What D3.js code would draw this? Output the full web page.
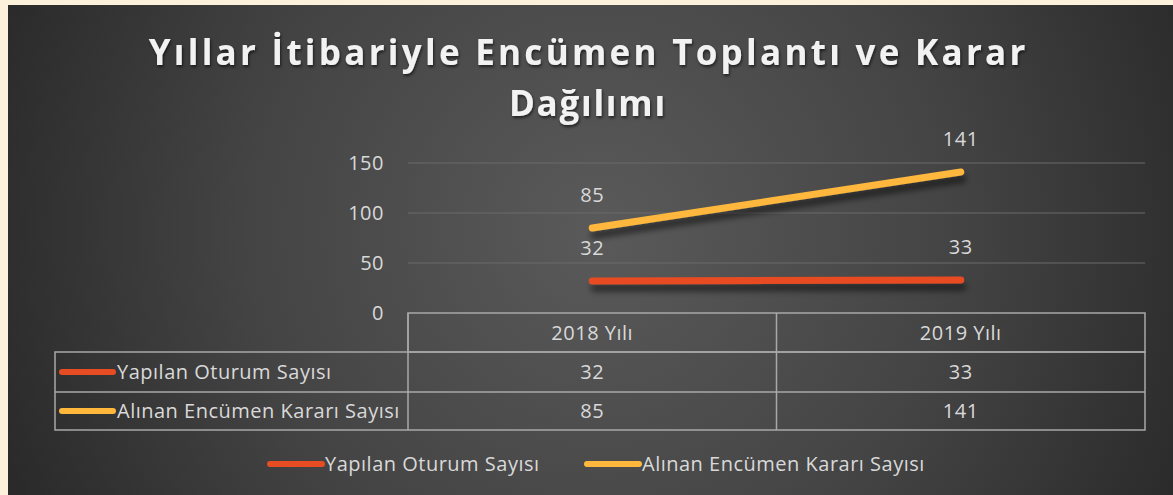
<!DOCTYPE html>
<html>
<head>
<meta charset="utf-8">
<script src="https://cdn.jsdelivr.net/npm/d3@7"></script>
<style>
  body { margin: 0; background: #fcf1da; }
  svg { display: block; }
</style>
</head>
<body>
<svg id="chart"></svg>
<script>
const width = 1173;
const height = 495;

const years = ['2018 Yılı', '2019 Yılı'];
const seriesNames = ['Yapılan Oturum Sayısı', 'Alınan Encümen Kararı Sayısı'];
const oturumValues = [32, 33];
const kararValues = [85, 141];
const yTicks = [0, 50, 100, 150];
const colors = ['#e84c22', '#ffb83c'];

const series = [
    { name: seriesNames[0], values: oturumValues, color: colors[0] },
    { name: seriesNames[1], values: kararValues, color: colors[1] }
];

const textColor = '#d9d9d9';
const gridColor = '#6b6b6b';
const tableColor = '#a8a8a8';
const font = '"Open Sans", "Noto Sans", sans-serif';
const fontSize = 20;
const spacing = 0.5;

const svg = d3.select('#chart')
    .attr('width', width)
    .attr('height', height);

const defs = svg.append('defs');

const grad = defs.append('radialGradient')
    .attr('id', 'bg')
    .attr('gradientUnits', 'userSpaceOnUse')
    .attr('cx', 600).attr('cy', 230).attr('r', 640);
grad.append('stop').attr('offset', '0%').attr('stop-color', '#5a5a5a');
grad.append('stop').attr('offset', '55%').attr('stop-color', '#444444');
grad.append('stop').attr('offset', '100%').attr('stop-color', '#2a2a2a');

// filter region in user space so the flat red line keeps its shadow
const shadow = defs.append('filter').attr('id', 'shadow')
    .attr('filterUnits', 'userSpaceOnUse')
    .attr('x', 0).attr('y', 0).attr('width', width).attr('height', height);
shadow.append('feDropShadow')
    .attr('dx', 2).attr('dy', 7).attr('stdDeviation', 3)
    .attr('flood-color', '#000').attr('flood-opacity', 0.55);

const titleShadow = defs.append('filter').attr('id', 'tshadow')
    .attr('filterUnits', 'userSpaceOnUse')
    .attr('x', 0).attr('y', 0).attr('width', width).attr('height', height);
titleShadow.append('feDropShadow')
    .attr('dx', 1).attr('dy', 2).attr('stdDeviation', 1.5)
    .attr('flood-color', '#000').attr('flood-opacity', 0.6);

// chart area
svg.append('rect')
    .attr('x', 8).attr('y', 5)
    .attr('width', width - 8).attr('height', height - 5)
    .attr('fill', 'url(#bg)');

// title
const titleLines = ['Yıllar İtibariyle Encümen Toplantı ve Karar', 'Dağılımı'];
const titleWidths = [880, 158];
const title = svg.append('g').attr('filter', 'url(#tshadow)');
titleLines.forEach((line, i) => {
    const t = title.append('text')
        .attr('x', 587)
        .attr('y', 65 + i * 51)
        .attr('text-anchor', 'middle')
        .attr('font-family', font)
        .attr('font-weight', 'bold')
        .attr('font-size', 35)
        .attr('fill', '#f2f2f2')
        .text(line);
    const w = t.node().getComputedTextLength();
    const ls = (titleWidths[i] - w) / line.length;
    t.attr('letter-spacing', ls).attr('x', 587 + ls / 2);
});

// scales
const x = d3.scaleBand().domain(years).range([408, 1145]);
const y = d3.scaleLinear().domain([0, 150]).range([313, 163]);

// gridlines
svg.append('g').selectAll('line')
    .data(yTicks.filter(d => d > 0)).enter().append('line')
    .attr('x1', 408).attr('x2', 1145)
    .attr('y1', d => y(d)).attr('y2', d => y(d))
    .attr('stroke', gridColor).attr('stroke-width', 1.2);

// y axis
const yAxis = svg.append('g')
    .attr('transform', 'translate(384, 0)')
    .call(d3.axisLeft(y).tickValues(yTicks).tickSize(0).tickPadding(0));
yAxis.select('.domain').remove();
yAxis.selectAll('text')
    .attr('font-family', font)
    .attr('font-size', fontSize)
    .attr('letter-spacing', spacing)
    .attr('fill', textColor);

// lines
const line = d3.line()
    .x((d, i) => x(years[i]) + x.bandwidth() / 2)
    .y(d => y(d));

svg.append('g').selectAll('path')
    .data(series).enter().append('path')
    .attr('d', d => line(d.values))
    .attr('fill', 'none')
    .attr('stroke', d => d.color)
    .attr('stroke-width', 7)
    .attr('stroke-linecap', 'round')
    .attr('filter', 'url(#shadow)');

function label(sel) {
    return sel
        .attr('font-family', font)
        .attr('font-size', fontSize)
        .attr('letter-spacing', spacing)
        .attr('fill', textColor);
}

// data labels
series.forEach(s => {
    svg.append('g').selectAll('text')
        .data(s.values).enter().append('text')
        .attr('x', (d, i) => x(years[i]) + x.bandwidth() / 2)
        .attr('y', d => y(d) - 26)
        .attr('text-anchor', 'middle')
        .call(label)
        .text(d => d);
});

// data table
const tableLeft = 55;
const rowTops = [313, 352, 392, 430];
const table = svg.append('g')
    .attr('fill', 'none')
    .attr('stroke', tableColor)
    .attr('stroke-width', 1.5);

table.append('rect')
    .attr('x', 408).attr('y', rowTops[0])
    .attr('width', 1145 - 408).attr('height', rowTops[1] - rowTops[0]);
table.append('rect')
    .attr('x', tableLeft).attr('y', rowTops[1])
    .attr('width', 1145 - tableLeft).attr('height', rowTops[3] - rowTops[1]);
table.append('line')
    .attr('x1', tableLeft).attr('x2', 1145)
    .attr('y1', rowTops[2]).attr('y2', rowTops[2]);
table.selectAll('.col')
    .data([408, x(years[1])]).enter().append('line')
    .attr('x1', d => d).attr('x2', d => d)
    .attr('y1', rowTops[0]).attr('y2', rowTops[3]);

// header
svg.append('g').selectAll('text')
    .data(years).enter().append('text')
    .attr('x', d => x(d) + x.bandwidth() / 2)
    .attr('y', (rowTops[0] + rowTops[1]) / 2 + 7)
    .attr('text-anchor', 'middle')
    .call(label)
    .text(d => d);

// rows
series.forEach((s, r) => {
    const cy = (rowTops[r + 1] + rowTops[r + 2]) / 2;
    const row = svg.append('g');
    row.append('line')
        .attr('x1', 62).attr('x2', 113)
        .attr('y1', cy).attr('y2', cy)
        .attr('stroke', s.color)
        .attr('stroke-width', 6)
        .attr('stroke-linecap', 'round');
    row.append('text')
        .attr('x', 117).attr('y', cy + 7)
        .call(label)
        .text(s.name);
    row.selectAll('.val')
        .data(s.values).enter().append('text')
        .attr('x', (d, i) => x(years[i]) + x.bandwidth() / 2)
        .attr('y', cy + 7)
        .attr('text-anchor', 'middle')
        .call(label)
        .text(d => d);
});

// legend
const legendX = [270, 587];
series.forEach((s, i) => {
    const g = svg.append('g').attr('transform', `translate(${legendX[i]}, 464)`);
    g.append('line')
        .attr('x1', 0).attr('x2', 52)
        .attr('stroke', s.color)
        .attr('stroke-width', 6)
        .attr('stroke-linecap', 'round');
    g.append('text')
        .attr('x', 55).attr('y', 7)
        .call(label)
        .text(s.name);
});
</script>
</body>
</html>
